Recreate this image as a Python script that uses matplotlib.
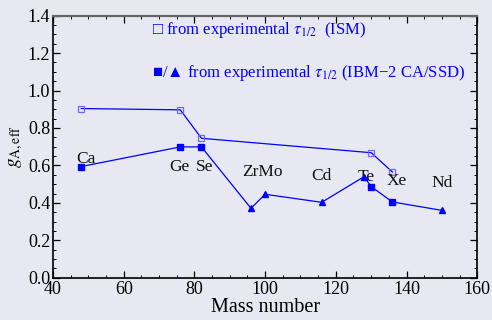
import matplotlib
matplotlib.use("Agg")
import matplotlib.pyplot as plt
from matplotlib.ticker import MultipleLocator, FormatStrFormatter

plt.rcParams["font.family"] = ["Liberation Serif", "DejaVu Serif"]
plt.rcParams["mathtext.fontset"] = "stix"

# ISM values (open squares)
ism_mass = [48, 76, 82, 130, 136]
ism_ga = [0.904, 0.897, 0.745, 0.668, 0.565]

# IBM-2 values (filled squares / triangles)
ibm_mass = [48, 76, 82, 96, 100, 116, 128, 130, 136, 150]
ibm_ga = [0.594, 0.699, 0.699, 0.371, 0.446, 0.403, 0.540, 0.487, 0.405, 0.360]
ibm_marker = ["s", "s", "s", "^", "^", "^", "^", "s", "s", "^"]

# Element labels
elements = ["Ca", "Ge", "Se", "ZrMo", "Cd", "Te", "Xe", "Nd"]
elem_x = [49.3, 75.8, 83.0, 99.3, 115.8, 128.5, 137.3, 150.0]
elem_y = [0.613, 0.571, 0.571, 0.544, 0.522, 0.517, 0.496, 0.483]

bg = "#e8e8f2"
blue = "#0000ff"

fig = plt.figure(figsize=(4.92, 3.20), dpi=100, facecolor=bg)
ax = fig.add_axes([0.1077, 0.132, 0.8623, 0.819], facecolor=bg)

ax.plot(ism_mass, ism_ga, color=blue, lw=0.9, marker="s", ms=4.8,
        mfc="none", mec="#6a6aff", mew=0.9, zorder=3)
ax.plot(ibm_mass, ibm_ga, color=blue, lw=0.9, zorder=3)
for x, y, m in zip(ibm_mass, ibm_ga, ibm_marker):
    ax.plot(x, y, marker=m, ms=5, color=blue, mec=blue, ls="none", zorder=4)

for name, x, y in zip(elements, elem_x, elem_y):
    ax.text(x, y, name, ha="center", va="baseline", fontsize=12.5, color="#111111")

ax.text(68.0, 1.303, "\u25a1 from experimental $\\tau_{1/2}$  (ISM)",
        color=blue, fontsize=12, va="baseline", ha="left")
ax.text(68.0, 1.073, "\u25a0/\u25b2 from experimental $\\tau_{1/2}$ (IBM\u22122 CA/SSD)",
        color=blue, fontsize=12, va="baseline", ha="left")

ax.set_xlim(40, 160)
ax.set_ylim(0, 1.4)
ax.xaxis.set_major_locator(MultipleLocator(20))
ax.xaxis.set_minor_locator(MultipleLocator(5))
ax.yaxis.set_major_locator(MultipleLocator(0.2))
ax.yaxis.set_minor_locator(MultipleLocator(0.05))
ax.yaxis.set_major_formatter(FormatStrFormatter("%.1f"))

ax.tick_params(which="both", direction="in", top=True, right=True,
               labelsize=13, colors="black", pad=2)
ax.tick_params(which="major", length=5, width=0.9)
ax.tick_params(which="minor", length=2.5, width=0.7)

for side in ["left", "bottom", "right"]:
    ax.spines[side].set_color("black")
    ax.spines[side].set_linewidth(1.2)
ax.spines["top"].set_color("#666666")
ax.spines["top"].set_linewidth(1.6)

ax.set_xlabel("Mass number", fontsize=14.5, labelpad=0)
ax.set_ylabel("$g_{\\mathrm{A,eff}}$", fontsize=14, labelpad=2)

fig.savefig("out.png", dpi=100, facecolor=bg)
